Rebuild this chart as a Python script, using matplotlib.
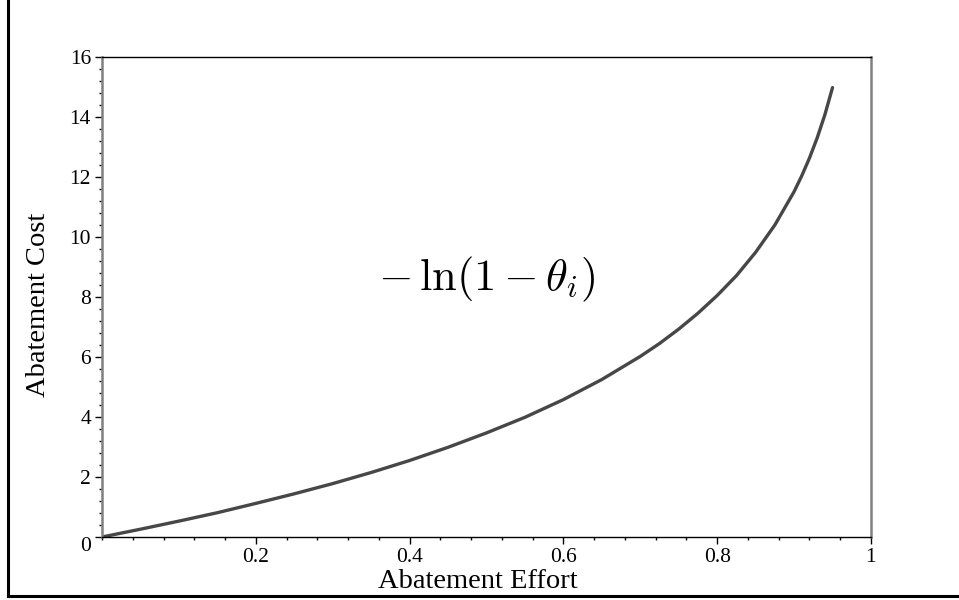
import numpy as np
import matplotlib
matplotlib.use('Agg')
import matplotlib.pyplot as plt
from matplotlib.lines import Line2D
from matplotlib.ticker import AutoMinorLocator

plt.rcParams['font.family'] = 'Liberation Serif'
plt.rcParams['mathtext.fontset'] = 'cm'

# values
effort = [0.0, 0.05, 0.1, 0.15, 0.2, 0.25, 0.3, 0.35, 0.4, 0.45, 0.5, 0.55,
          0.6, 0.65, 0.7, 0.725, 0.75, 0.775, 0.8, 0.825, 0.85, 0.875, 0.9,
          0.91, 0.92, 0.93, 0.94, 0.95]
cost = [0.0, 0.26, 0.53, 0.81, 1.12, 1.44, 1.78, 2.15, 2.55, 2.99, 3.47, 3.99,
        4.58, 5.25, 6.02, 6.45, 6.93, 7.46, 8.05, 8.71, 9.49, 10.40, 11.51,
        12.04, 12.63, 13.30, 14.07, 14.98]

x_ticks = [0.2, 0.4, 0.6, 0.8, 1.0]
x_labels = ['0.2', '0.4', '0.6', '0.8', '1']
y_ticks = [0, 2, 4, 6, 8, 10, 12, 14, 16]

fig = plt.figure(figsize=(9.59, 6.0), dpi=100)
ax = fig.add_axes([0.1064, 0.105, 0.8018, 0.80])

ax.plot(effort, cost, color='#474747', linewidth=2.4, solid_capstyle='round')

ax.set_xlim(0, 1)
ax.set_ylim(0, 16)
ax.set_xticks(x_ticks)
ax.set_xticklabels(x_labels)
ax.set_yticks(y_ticks)
ax.xaxis.set_minor_locator(AutoMinorLocator(5))
ax.yaxis.set_minor_locator(AutoMinorLocator(5))
ax.tick_params(which='major', direction='out', length=5, width=1, color='black',
               labelsize=15.5, pad=3)
ax.tick_params(which='minor', direction='out', length=2.5, width=1, color='black')

# origin label sits a bit below the axis like the original
ax.get_yticklabels()[0].set_va('top')

for side in ['left', 'right']:
    ax.spines[side].set_color('#808080')
    ax.spines[side].set_linewidth(1.8)
for side in ['top', 'bottom']:
    ax.spines[side].set_color('black')
    ax.spines[side].set_linewidth(1.0)

ax.set_xlabel('Abatement Effort', fontsize=20.5)
ax.set_ylabel('Abatement Cost', fontsize=20.5)
ax.xaxis.label.set_va('center')
ax.yaxis.label.set_va('center')
ax.xaxis.set_label_coords(0.489, -0.092)
ax.yaxis.set_label_coords(-0.083, 0.483)

ax.text(0.5, 8.6, r'$-\,\ln(1-\theta_i)$', fontsize=32, ha='center', va='center')

# outer frame (left and bottom only)
fig.add_artist(Line2D([0.0085, 0.0085], [0.006, 1.0], transform=fig.transFigure,
                      color='black', linewidth=2.2))
fig.add_artist(Line2D([0.0085, 1.0], [0.007, 0.007], transform=fig.transFigure,
                      color='black', linewidth=2.2))

fig.savefig('out.png', dpi=100)
